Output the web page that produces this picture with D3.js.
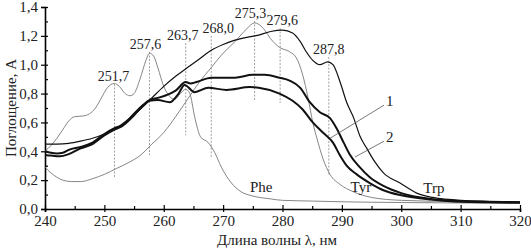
<!DOCTYPE html>
<html>
<head>
<meta charset="utf-8">
<script src="https://cdn.jsdelivr.net/npm/d3@7"></script>
<style>
  body { margin: 0; background: #fff; }
  svg text { font-family: "Liberation Serif", "DejaVu Serif", "Times New Roman", Times, serif !important; }
</style>
</head>
<body>
<script>
// spectra, [wavelength nm, absorbance]
let phe = [[240,0.40],[241,0.44],[242,0.49],[243,0.55],[244,0.61],[245,0.64],[246.5,0.645],[247.5,0.66],[248.5,0.70],
  [249.5,0.77],[250.5,0.84],[251.7,0.87],[252.5,0.85],[253.5,0.80],[254.3,0.785],[255,0.80],[256,0.90],[257,1.03],
  [257.6,1.08],[258.3,1.06],[259,0.98],[260,0.85],[261,0.78],[261.8,0.76],[262.8,0.80],[263.7,0.83],[264.4,0.80],
  [265.2,0.64],[266.2,0.50],[267.5,0.46],[268.6,0.39],[269.7,0.29],[271.4,0.18],[273,0.12],[275,0.09],[278,0.07],
  [280,0.06],[285,0.055],[290,0.05],[300,0.045],[320,0.04]];
let tyr = [[240,0.29],[241,0.25],[242,0.22],[243,0.20],[244.5,0.19],[246,0.19],[248,0.21],[250,0.24],[252,0.28],
  [254,0.32],[256,0.37],[258,0.45],[260,0.53],[262,0.64],[264,0.76],[266,0.88],[268,0.98],[270,1.08],[272,1.16],
  [274,1.25],[275.3,1.29],[276,1.28],[277,1.24],[278,1.18],[279.5,1.12],[281.2,1.09],[282.3,1.05],[283.4,0.93],
  [284.3,0.77],[285.1,0.60],[286,0.46],[286.8,0.35],[288,0.24],[289.7,0.17],[291.9,0.12],[295,0.08],[300,0.06],
  [310,0.05],[320,0.04]];
let trp = [[240,0.45],[242,0.45],[244,0.455],[246,0.47],[248,0.49],[250,0.52],[252,0.56],[254,0.62],[256,0.69],
  [258,0.77],[260,0.85],[262,0.92],[264,0.98],[266,1.04],[268,1.10],[270,1.14],[272,1.17],[274,1.19],[276,1.205],
  [278,1.23],[280,1.24],[281.7,1.22],[283,1.16],[284,1.09],[285.1,1.03],[286.3,1.00],[287.6,1.02],[288.5,1.00],
  [289.7,0.88],[290.8,0.74],[292,0.63],[293,0.51],[294.2,0.42],[295.5,0.33],[297,0.25],[299.8,0.18],[302.6,0.11],
  [305.3,0.08],[310,0.06],[320,0.05]];
let mix1 = [[240,0.40],[241,0.39],[242,0.385],[243,0.39],[244,0.41],[246,0.43],[248,0.46],[250,0.52],[251.7,0.56],
  [253,0.58],[255,0.66],[256.5,0.72],[257.6,0.755],[259,0.77],[260.5,0.79],[262,0.82],[263.7,0.88],[264.5,0.87],
  [265.5,0.88],[268,0.91],[272,0.91],[275,0.93],[277,0.93],[279.5,0.91],[281.2,0.89],[283,0.84],[284.6,0.74],
  [286.3,0.67],[288,0.63],[289.1,0.56],[290.3,0.46],[291.3,0.38],[293,0.29],[294.7,0.22],[297,0.16],[300,0.11],
  [305,0.07],[310,0.055],[320,0.045]];
let mix2 = [[240,0.375],[241,0.37],[242.5,0.365],[244,0.38],[246,0.42],[248,0.45],[250,0.51],[251.7,0.55],[253,0.575],
  [255,0.65],[256.5,0.715],[257.6,0.75],[259,0.755],[261,0.74],[262.5,0.80],[263.5,0.86],[265.2,0.81],[267.5,0.84],
  [270.6,0.825],[274.5,0.845],[276,0.84],[279.5,0.80],[281.7,0.75],[283.4,0.69],[285.1,0.60],[286.8,0.53],
  [288.5,0.46],[289.7,0.37],[290.8,0.30],[292.5,0.24],[294.7,0.18],[297,0.13],[300,0.095],[305,0.065],[310,0.05],
  [320,0.045]];

// marked peaks: wavelength, top and bottom of the guide line
let peakNm = [251.7, 257.6, 263.7, 268.0, 275.3, 279.6, 287.8];
let peakTop = [0.866, 1.088, 1.15, 1.20, 1.303, 1.254, 1.053];
let peakBottom = [0.215, 0.374, 0.51, 0.353, 0.755, 0.735, 0.236];
let peakLabels = ["251,7", "257,6", "263,7", "268,0", "275,3", "279,6", "287,8"];

let xTicks = [240, 250, 260, 270, 280, 290, 300, 310, 320];
let yTicks = [0, 0.2, 0.4, 0.6, 0.8, 1.0, 1.2, 1.4];

let w = 531;
let h = 250;
let serif = "'Liberation Serif', 'DejaVu Serif', serif";

let svg = d3.select("body")
    .append("svg")
    .attr("width", w)
    .attr("height", h)
    .attr("font-family", serif);

let x = d3.scaleLinear().domain([240, 320]).range([45, 520]);
let y = d3.scaleLinear().domain([0, 1.4]).range([209, 7]);

let comma = function(d) { return d3.format(".1f")(d).replace(".", ","); };

/************** axes **************/
let xAxis = svg.append("g")
    .attr("transform", "translate(0," + y(0) + ")")
    .call(d3.axisBottom(x).tickValues(xTicks).tickSize(3).tickPadding(3).tickFormat(d => d));
xAxis.selectAll(".tick line").attr("y1", -4);

svg.append("g")
    .attr("transform", "translate(0," + y(0) + ")")
    .call(d3.axisBottom(x).tickValues(d3.range(245, 320, 10)).tickSize(-3).tickFormat(""))
    .select(".domain").remove();

let yAxis = svg.append("g")
    .attr("transform", "translate(" + x(240) + ",0)")
    .call(d3.axisLeft(y).tickValues(yTicks).tickSize(4).tickPadding(3).tickFormat(comma));
yAxis.selectAll(".tick line").attr("x1", 3);

svg.append("g")
    .attr("transform", "translate(" + x(240) + ",0)")
    .call(d3.axisLeft(y).tickValues(d3.range(0.1, 1.4, 0.2)).tickSize(-3).tickFormat(""))
    .select(".domain").remove();

svg.selectAll("g").attr("font-family", serif);
svg.selectAll(".domain").attr("stroke-width", 1.6);
svg.selectAll(".tick line").attr("stroke-width", 1.2);
svg.selectAll(".tick text")
    .attr("font-size", "15px")
    .attr("fill", "#222");

svg.append("text")
    .attr("x", 277)
    .attr("y", 245)
    .attr("text-anchor", "middle")
    .attr("font-size", "15px")
    .attr("fill", "#222")
    .text("Длина волны λ, нм");

svg.append("text")
    .attr("transform", "translate(16,108) rotate(-90)")
    .attr("text-anchor", "middle")
    .attr("font-size", "15px")
    .attr("fill", "#222")
    .text("Поглощение, А");

/************** peak guides **************/
svg.selectAll("line.peak")
    .data(peakNm)
    .enter()
    .append("line")
    .attr("class", "peak")
    .attr("x1", d => x(d))
    .attr("x2", d => x(d))
    .attr("y1", (d, i) => y(peakTop[i]))
    .attr("y2", (d, i) => y(peakBottom[i]))
    .attr("stroke", "#888")
    .attr("stroke-width", 0.8)
    .attr("stroke-dasharray", "2,1.5");

let labelShift = [-1, -4, -3, 7, -4, 2, 0];
svg.selectAll("text.peak")
    .data(peakNm)
    .enter()
    .append("text")
    .attr("class", "peak")
    .attr("x", (d, i) => x(d) + labelShift[i])
    .attr("y", (d, i) => y(peakTop[i]) - 3)
    .attr("text-anchor", "middle")
    .attr("font-size", "14px")
    .attr("fill", "#222")
    .text((d, i) => peakLabels[i]);

/************** spectra **************/
let line = d3.line()
    .x(d => x(d[0]))
    .y(d => y(d[1]))
    .curve(d3.curveMonotoneX);

let series = [
    {data: phe, color: "#777", width: 0.9},
    {data: tyr, color: "#777", width: 0.9},
    {data: trp, color: "#111", width: 1.2},
    {data: mix1, color: "#111", width: 2.0},
    {data: mix2, color: "#111", width: 2.0}
];

svg.selectAll("path.spec")
    .data(series)
    .enter()
    .append("path")
    .attr("class", "spec")
    .attr("d", d => line(d.data))
    .attr("fill", "none")
    .attr("stroke", d => d.color)
    .attr("stroke-width", d => d.width)
    .attr("stroke-linejoin", "round");

// curve names
let names = [["Phe", 276.4, 0.118], ["Tyr", 293.2, 0.118], ["Trp", 305.5, 0.11]];
svg.selectAll("text.name")
    .data(names)
    .enter()
    .append("text")
    .attr("class", "name")
    .attr("x", d => x(d[1]))
    .attr("y", d => y(d[2]))
    .attr("text-anchor", "middle")
    .attr("font-size", "15px")
    .attr("fill", "#222")
    .text(d => d[0]);

// leaders for the mixtures
let leaders = [["1", 288.0, 0.49, 297.1, 0.72], ["2", 292.2, 0.36, 297.1, 0.47]];
svg.selectAll("line.lead")
    .data(leaders)
    .enter()
    .append("line")
    .attr("class", "lead")
    .attr("x1", d => x(d[1]))
    .attr("y1", d => y(d[2]))
    .attr("x2", d => x(d[3]))
    .attr("y2", d => y(d[4]))
    .attr("stroke", "#555")
    .attr("stroke-width", 0.8);

svg.selectAll("text.lead")
    .data(leaders)
    .enter()
    .append("text")
    .attr("class", "lead")
    .attr("x", d => x(d[3]) + 2)
    .attr("y", d => y(d[4]) + 1)
    .attr("font-size", "15px")
    .attr("fill", "#222")
    .text(d => d[0]);
</script>
</body>
</html>
